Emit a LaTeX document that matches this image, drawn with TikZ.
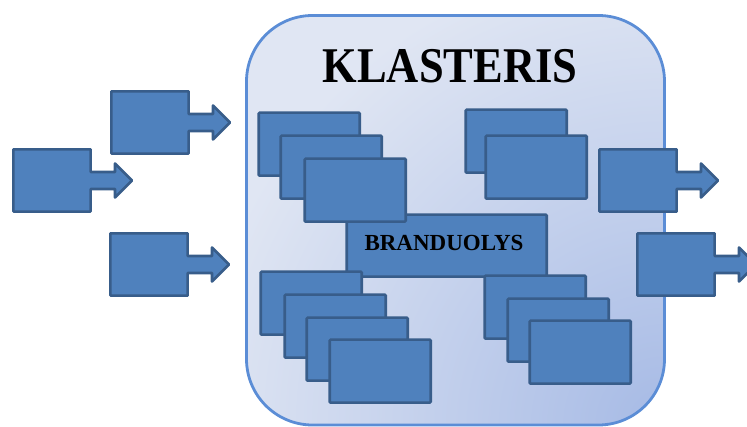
\documentclass[tikz,border=0pt]{standalone}
\usepackage{fontspec}
\setmainfont{Liberation Serif}
\definecolor{boxc}{HTML}{4F81BD}
\definecolor{bordc}{HTML}{385D8A}
\definecolor{bgL}{HTML}{E0E6F3}
\definecolor{bgD}{HTML}{A6BAE5}
\definecolor{frame}{HTML}{5B8DD6}
\tikzset{
  box/.style={draw=bordc, fill=boxc, line width=2.6pt, minimum width=101pt,
    minimum height=63pt, inner sep=0pt, anchor=north west, xshift=1.4pt, yshift=-1.4pt,
    rounded corners=1pt},
  bigbox/.style={box, minimum width=200pt, minimum height=62pt},
  arrowshape/.style={draw=bordc, fill=boxc, line width=2.6pt, line join=round},
  blockarrow/.pic={
    \path[arrowshape] (1.4,1.4) -- (78.6,1.4) -- (78.6,24) -- (103,24) -- (103,15.5)
      -- (120,32.5) -- (103,49.5) -- (103,41) -- (78.6,41) -- (78.6,63.6) -- (1.4,63.6) -- cycle;
  }
}
\begin{document}
\begin{tikzpicture}[x=1pt,y=-1pt]
\useasboundingbox (0,0) rectangle (747,427);
\clip (0,0) rectangle (747,427);
% cluster
\begin{scope}
  \clip[rounded corners=66pt] (246.5,15.5) rectangle (664.5,425);
  \fill[bgL] (240,10) rectangle (670,430);
  \shade[inner color=bgD, outer color=bgL] (664,425) circle (470);
\end{scope}
\draw[frame, line width=2.8pt, rounded corners=66pt] (246.5,15.5) rectangle (664.5,425);
\node[font=\bfseries\fontsize{50}{50}\selectfont, anchor=base, xscale=0.89] (title) at (450,83) {KLASTERIS};
% core
\node[bigbox] (core) at (344,212) {};
\node[font=\bfseries\fontsize{23}{23}\selectfont, anchor=base] (coretext) at (444,250.5) {BRANDUOLYS};
% top-left stack
\node[box] (r1) at (256,110) {};
\node[box] (r2) at (278,133) {};
\node[box] (r3) at (302,156) {};
% top-right stack
\node[box] (r4) at (463,107) {};
\node[box] (r5) at (483,133) {};
% bottom-left stack
\node[box] (b1) at (258,269) {};
\node[box] (b2) at (282,292) {};
\node[box] (b3) at (304,315) {};
\node[box] (b4) at (327,337) {};
% bottom-right stack
\node[box] (c1) at (482,273) {};
\node[box] (c2) at (505,296) {};
\node[box] (c3) at (527,318) {};
% block arrows
\pic at (110,90) {blockarrow};
\pic at (12,148) {blockarrow};
\pic at (109,232) {blockarrow};
\pic at (598,148) {blockarrow};
\pic at (636,232) {blockarrow};
\end{tikzpicture}
\end{document}
